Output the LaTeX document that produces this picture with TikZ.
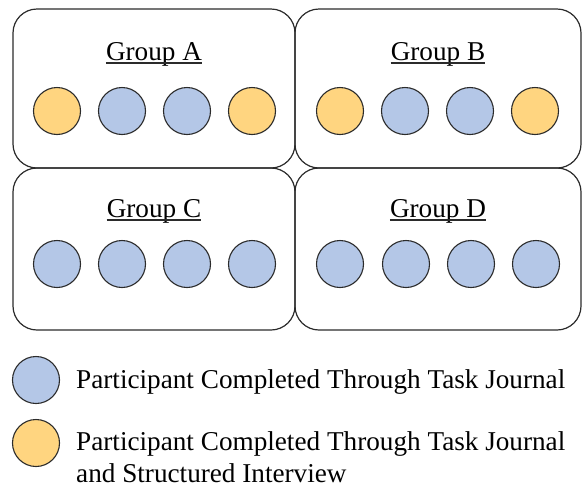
\documentclass[tikz,border=0pt]{standalone}
\usepackage{fontspec}
\setmainfont{Liberation Serif}
\definecolor{pblue}{HTML}{B4C7E7}
\definecolor{porange}{HTML}{FFD580}
\definecolor{edge}{HTML}{2B2B2B}
\begin{document}
\begin{tikzpicture}[x=1pt,y=-1pt,
  groupbox/.style={draw=edge,line width=1.2pt,rounded corners=24pt},
  pcircle/.style={circle,draw=edge,line width=1.1pt,minimum size=47pt,inner sep=0pt},
  jcircle/.style={pcircle,fill=pblue},
  icircle/.style={pcircle,fill=porange},
  lcircle/.style={ellipse,draw=edge,line width=1.1pt,minimum width=46pt,minimum height=46pt,inner sep=0pt},
  title/.style={inner sep=0pt,font=\fontsize{27.2}{32}\selectfont},
  ltext/.style={inner sep=0pt,font=\fontsize{27.2}{32}\selectfont,align=left}
]
\useasboundingbox (0,0) rectangle (584,488);
% group boxes
\draw[groupbox] (13,9) rectangle (295,168);
\draw[groupbox] (295,9) rectangle (581,168);
\draw[groupbox] (13,168) rectangle (295,330);
\draw[groupbox] (295,168) rectangle (581,330);
% titles
\node[title,anchor=base] (ta) at (154,60) {Group A};
\node[title,anchor=base] (tb) at (438,60) {Group B};
\node[title,anchor=base] (tc) at (154,217) {Group C};
\node[title,anchor=base] (td) at (438,217) {Group D};
\foreach \t in {ta,tb,tc,td}{
  \draw[line width=1.3pt,edge] ([yshift=-3pt]\t.base west) -- ([yshift=-3pt]\t.base east);
}
% Group A
\node[icircle] (a1) at (57,111) {};
\node[jcircle] (a2) at (122,111) {};
\node[jcircle] (a3) at (187,111) {};
\node[icircle] (a4) at (252,111) {};
% Group B
\node[icircle] (b1) at (340,111) {};
\node[jcircle] (b2) at (405,111) {};
\node[jcircle] (b3) at (470,111) {};
\node[icircle] (b4) at (535,111) {};
% Group C
\node[jcircle] (c1) at (57,264) {};
\node[jcircle] (c2) at (122,264) {};
\node[jcircle] (c3) at (187,264) {};
\node[jcircle] (c4) at (252,264) {};
% Group D
\node[jcircle] (d1) at (340,264) {};
\node[jcircle] (d2) at (406,264) {};
\node[jcircle] (d3) at (471,264) {};
\node[jcircle] (d4) at (536,264) {};
% legend
\node[jcircle] (l1) at (36,380) {};
\node[icircle] (l2) at (36,443) {};
\node[ltext,anchor=base west] (lt1) at (76,388) {Participant Completed Through Task Journal};
\node[ltext,anchor=base west] (lt2) at (76,450) {Participant Completed Through Task Journal};
\node[ltext,anchor=base west] (lt3) at (76,482) {and Structured Interview};
\end{tikzpicture}
\end{document}
